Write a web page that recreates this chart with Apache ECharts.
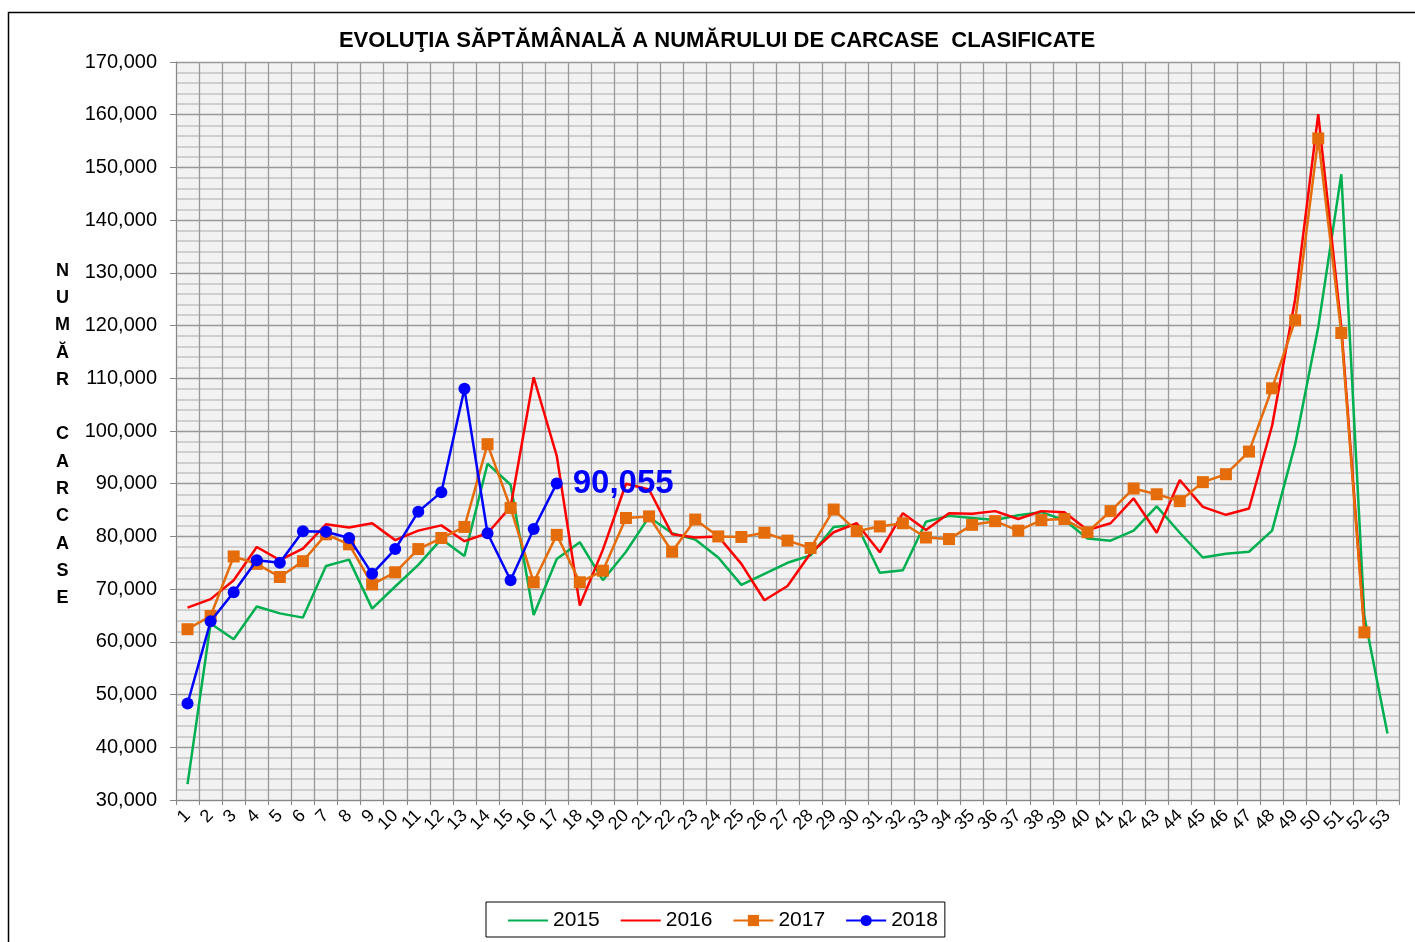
<!DOCTYPE html>
<html>
<head>
<meta charset="utf-8">
<script src="https://cdn.jsdelivr.net/npm/echarts@6/dist/echarts.min.js"></script>
<style>
html,body{margin:0;padding:0;background:#fff;}
#chart{width:1415px;height:942px;}
</style>
</head>
<body>
<div id="chart"></div>
<script>
var weeks = ['1','2','3','4','5','6','7','8','9','10','11','12','13','14','15','16','17','18','19','20','21','22','23','24','25','26','27','28','29','30','31','32','33','34','35','36','37','38','39','40','41','42','43','44','45','46','47','48','49','50','51','52','53'];

var y2015 = [33000,63500,60500,66700,65400,64600,74400,75600,66300,70500,74600,79500,76300,93800,89800,65100,75700,78900,71700,77100,83700,80600,79400,76000,70800,72900,75000,76400,81800,82200,73100,73600,82800,83900,83500,83100,84000,84600,83100,79600,79200,81100,85700,80700,76000,76700,77100,81100,97500,119700,148700,64800,42600];

var y2016 = [66500,68100,71700,78000,75500,77700,82300,81700,82500,79300,81100,82100,79100,80600,85600,110200,95300,66900,77500,90000,88900,80400,79800,80000,74800,67900,70600,76800,80800,82500,77000,84400,81200,84400,84300,84800,83300,84800,84600,81200,82500,87200,80700,90700,85600,84100,85300,101000,125000,160100,119700,62400];

var y2017 = [62400,64900,76200,74800,72300,75300,80400,78500,70900,73200,77600,79700,81800,97500,85400,71300,80300,71300,73500,83500,83800,77100,83200,80000,79900,80700,79200,77800,85100,81000,81900,82500,79800,79500,82200,82900,81100,83100,83300,80800,84800,89100,88000,86700,90300,91800,96100,108100,121000,155500,118600,61800];

var y2018 = [48300,63900,69400,75500,75000,81000,80900,79700,72900,77600,84700,88400,108000,80600,71700,81400,90055];

var titleText = 'EVOLUŢIA SĂPTĂMÂNALĂ A NUMĂRULUI DE CARCASE  CLASIFICATE';
var yAxisTitle = ['N','U','M','Ă','R','','C','A','R','C','A','S','E'];

function fmt(v){ return String(v).replace(/\B(?=(\d{3})+(?!\d))/g, ','); }

var font = 'Liberation Sans, Arial, sans-serif';

var d2018 = y2018.map(function(v, i){
  if (i === y2018.length - 1) {
    return {value: v, label: {show: true, position: 'right', distance: 10, formatter: function(p){return fmt(p.value);},
      fontSize: 33, fontWeight: 'bold', color: '#0000ff', fontFamily: font}};
  }
  return v;
});

var chart = echarts.init(document.getElementById('chart'), null, {renderer: 'canvas'});
chart.setOption({
  animation: false,
  backgroundColor: '#ffffff',
  title: {
    text: titleText,
    left: 712, top: 25, textAlign: 'center',
    textStyle: {fontFamily: font, fontSize: 22, fontWeight: 'bold', color: '#000'}
  },
  graphic: [
    {type: 'rect', shape: {x: 8.5, y: 12.5, width: 1420, height: 960}, style: {fill: 'none', stroke: '#000', lineWidth: 1.5}, z: -10},
    {type: 'text', left: 55, top: 257, style: {text: yAxisTitle.join('\n'), font: 'bold 18px ' + font, lineHeight: 27.3, fill: '#000', textAlign: 'center'}}
  ],
  legend: {
    left: 486, top: 902,
    padding: [8, 7, 6, 21],
    itemGap: 20, itemWidth: 40, itemHeight: 14,
    borderColor: '#000', borderWidth: 1,
    textStyle: {fontSize: 21, fontFamily: font, color: '#000'},
    data: ['2015','2016','2017','2018']
  },
  grid: {left: 176, right: 16, top: 62, bottom: 142, containLabel: false, show: true, backgroundColor: '#f2f2f2', borderWidth: 0},
  xAxis: {
    type: 'category', data: weeks, boundaryGap: true,
    axisLine: {lineStyle: {color: '#888', width: 1}},
    axisTick: {show: true, alignWithLabel: false, length: 5, lineStyle: {color: '#888'}},
    axisLabel: {interval: 0, rotate: 45, fontSize: 18, fontFamily: font, color: '#000', margin: 13},
    splitLine: {show: true, interval: 0, lineStyle: {color: '#999', width: 1.3}}
  },
  yAxis: {
    type: 'value', min: 30000, max: 170000, interval: 10000,
    axisLine: {show: true, lineStyle: {color: '#888'}},
    axisTick: {show: true, length: 6, lineStyle: {color: '#888'}},
    axisLabel: {fontSize: 20, fontFamily: font, color: '#000', margin: 19, formatter: function(v){return fmt(v);}},
    splitLine: {show: true, lineStyle: {color: '#999', width: 1.3}},
    minorTick: {show: false, splitNumber: 5},
    minorSplitLine: {show: true, lineStyle: {color: '#c4c4c4', width: 1.5}}
  },
  series: [
    {name: '2015', type: 'line', data: y2015, symbol: 'none', lineStyle: {color: '#00b050', width: 2.5}, itemStyle: {color: 'rgba(0,0,0,0)'}, z: 2},
    {name: '2016', type: 'line', data: y2016, symbol: 'none', lineStyle: {color: '#ff0000', width: 2.5}, itemStyle: {color: 'rgba(0,0,0,0)'}, z: 3},
    {name: '2017', type: 'line', data: y2017, symbol: 'rect', symbolSize: 12, showSymbol: true, lineStyle: {color: '#e46c0a', width: 2.5}, itemStyle: {color: '#e46c0a'}, z: 4},
    {name: '2018', type: 'line', data: d2018, symbol: 'circle', symbolSize: 12, showSymbol: true, lineStyle: {color: '#0000ff', width: 2.5}, itemStyle: {color: '#0000ff'}, z: 5}
  ]
});
</script>
</body>
</html>
